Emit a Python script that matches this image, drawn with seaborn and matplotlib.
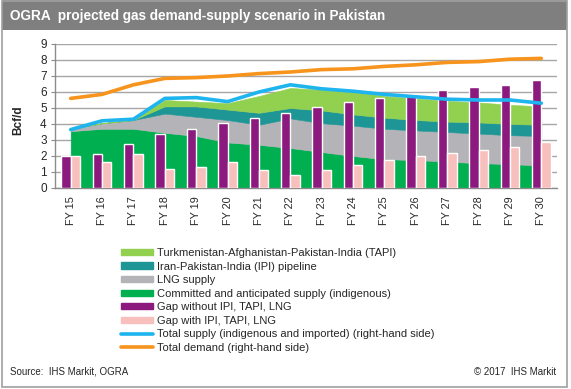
import numpy as np
import pandas as pd
import matplotlib
matplotlib.use("Agg")
import matplotlib.pyplot as plt
import seaborn as sns
from matplotlib.patches import Patch, Rectangle
from matplotlib.lines import Line2D

# Fiscal years
years = ['FY 15', 'FY 16', 'FY 17', 'FY 18', 'FY 19', 'FY 20', 'FY 21', 'FY 22',
         'FY 23', 'FY 24', 'FY 25', 'FY 26', 'FY 27', 'FY 28', 'FY 29', 'FY 30']

# Stacked supply components (Bcf/d)
committed = [3.55, 3.7, 3.7, 3.45, 3.25, 2.85, 2.7, 2.5, 2.25, 2.0, 1.8, 1.75, 1.65, 1.55, 1.5, 1.4]
lng = [0.15, 0.35, 0.55, 1.2, 1.2, 1.4, 1.25, 1.85, 1.8, 1.9, 1.9, 1.85, 1.85, 1.85, 1.8, 1.85]
ipi = [0.0, 0.0, 0.0, 0.45, 0.65, 0.65, 0.75, 0.65, 0.8, 0.7, 0.7, 0.65, 0.65, 0.7, 0.7, 0.7]
tapi = [0.0, 0.0, 0.0, 0.4, 0.3, 0.4, 1.05, 1.25, 1.3, 1.45, 1.35, 1.35, 1.3, 1.25, 1.2, 1.15]

# Gaps (bars)
gap_without = [2.0, 2.15, 2.75, 3.4, 3.7, 4.05, 4.4, 4.7, 5.05, 5.35, 5.65, 5.9, 6.15, 6.3, 6.45, 6.75]
gap_with = [2.0, 1.65, 2.1, 1.2, 1.3, 1.65, 1.15, 0.8, 1.1, 1.45, 1.75, 2.0, 2.2, 2.4, 2.55, 2.85]

# Totals (lines)
total_supply = [3.65, 4.2, 4.3, 5.6, 5.65, 5.4, 6.0, 6.45, 6.2, 6.05, 5.85, 5.7, 5.55, 5.5, 5.5, 5.3]
total_demand = [5.6, 5.85, 6.45, 6.85, 6.9, 7.0, 7.15, 7.25, 7.4, 7.45, 7.6, 7.7, 7.85, 7.9, 8.05, 8.1]

labels = ['Turkmenistan-Afghanistan-Pakistan-India (TAPI)',
          'Iran-Pakistan-India (IPI) pipeline',
          'LNG supply',
          'Committed and anticipated supply (indigenous)',
          'Gap without IPI, TAPI, LNG',
          'Gap with IPI, TAPI, LNG',
          'Total supply (indigenous and imported) (right-hand side)',
          'Total demand (right-hand side)']

c_tapi = '#92D050'
c_ipi = '#1F9696'
c_lng = '#B4B4B8'
c_comm = '#00B050'
c_gap1 = '#8C1A7E'
c_gap2 = '#F8C0BC'
c_supply = '#1EB4EE'
c_demand = '#F7941D'

sns.set_style("white")
plt.rcParams['font.family'] = ['Liberation Sans', 'DejaVu Sans']

W, H = 571, 389
fig = plt.figure(figsize=(W / 100, H / 100), dpi=100)
ax = fig.add_axes([55 / W, 1 - 188 / H, (557 - 55) / W, (188 - 44) / H])

x = np.arange(len(years))

# stacked areas
ax.stackplot(x, committed, lng, ipi, tapi,
             colors=[c_comm, c_lng, c_ipi, c_tapi], edgecolor='face', linewidth=0.4, zorder=1)

# bars
bars = pd.DataFrame({
    'year': years * 2,
    'value': gap_without + gap_with,
    'series': [labels[4]] * len(years) + [labels[5]] * len(years),
})
sns.barplot(data=bars, x='year', y='value', hue='series',
            hue_order=[labels[4], labels[5]], palette=[c_gap1, c_gap2],
            width=0.6, saturation=1, legend=False, ax=ax, zorder=3)

# lines
sns.lineplot(x=x, y=total_supply, ax=ax, color=c_supply, linewidth=2.6, zorder=4)
sns.lineplot(x=x, y=total_demand, ax=ax, color=c_demand, linewidth=2.6, zorder=4)

ax.set_xlim(-0.5, len(years) - 0.5)
ax.set_ylim(0, 9)
ax.set_yticks(range(0, 10))
ax.yaxis.grid(True, color='#A6A6A6', linewidth=1)
ax.xaxis.grid(False)
ax.set_axisbelow(True)
ax.set_xlabel('')
ax.set_ylabel('')
ax.set_xticks(x)
ax.set_xticklabels(years, rotation=90, fontsize=7.8)
ax.set_xticks(np.arange(-0.5, len(years)), minor=True)
ax.tick_params(axis='x', which='major', length=0, pad=6)
ax.tick_params(axis='x', which='minor', length=4, color='#8C8C8C', width=1)
ax.tick_params(axis='y', length=3, color='#8C8C8C', labelsize=8.5, pad=3, left=True)
for s in ['top', 'right']:
    ax.spines[s].set_visible(False)
for s in ['left', 'bottom']:
    ax.spines[s].set_color('#8C8C8C')
    ax.spines[s].set_linewidth(1)

fig.text(18 / W, 1 - 120 / H, 'Bcf/d', rotation=90, ha='center', va='center',
         fontsize=8.5, fontweight='bold')

# legend
handles = [Patch(color=c_tapi), Patch(color=c_ipi), Patch(color=c_lng), Patch(color=c_comm),
           Patch(color=c_gap1), Patch(color=c_gap2),
           Line2D([], [], color=c_supply, linewidth=2.6),
           Line2D([], [], color=c_demand, linewidth=2.6)]
fig.legend(handles, labels, loc='upper left', bbox_to_anchor=(121 / W, 1 - 248 / H),
           frameon=False, fontsize=8, handlelength=2.9, handleheight=0.5,
           labelspacing=0.32, handletextpad=0.35, borderpad=0, borderaxespad=0)

# title bar and frame
fig.patches.append(Rectangle((2 / W, 1 - 30 / H), (567 - 2) / W, 30 / H,
                             transform=fig.transFigure, facecolor='#7F7F7F',
                             edgecolor='none', zorder=0))
fig.patches.append(Rectangle((2 / W, 1 - 387 / H), (567 - 2) / W, (387 - 1) / H,
                             transform=fig.transFigure, facecolor='none',
                             edgecolor='#A0A0A0', linewidth=1.2, zorder=5))
fig.text(10 / W, 1 - 16 / H, 'OGRA  projected gas demand-supply scenario in Pakistan',
         color='white', fontsize=9.8, fontweight='bold', va='center', ha='left')

fig.text(10 / W, 1 - 372 / H, 'Source:  IHS Markit, OGRA', fontsize=7, va='center', ha='left')
fig.text(556 / W, 1 - 372 / H, '\u00a9 2017  IHS Markit', fontsize=7, va='center', ha='right')

fig.savefig('out.png', dpi=100)
